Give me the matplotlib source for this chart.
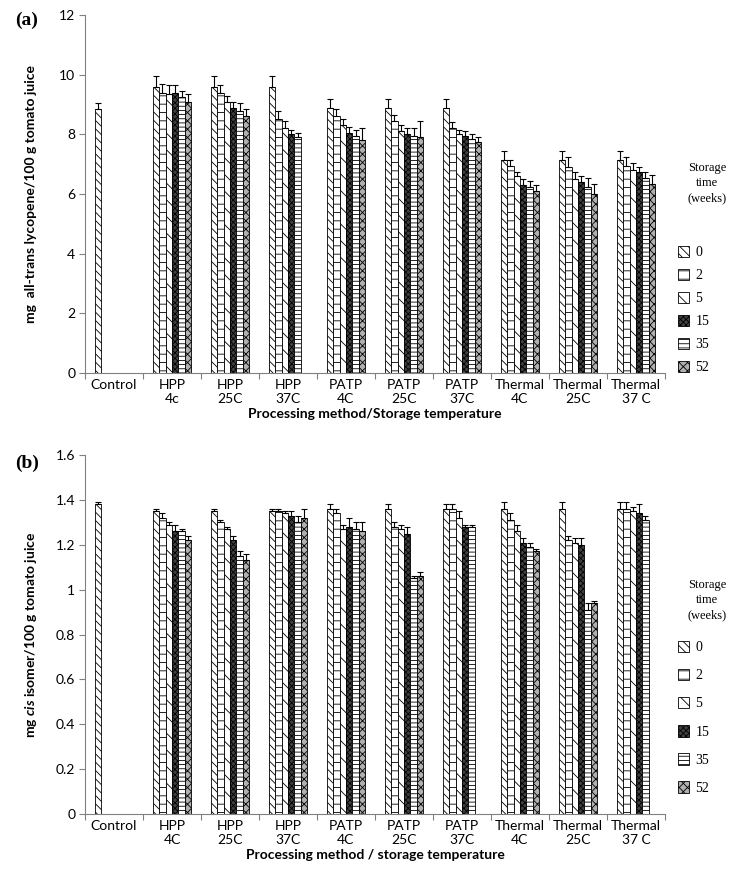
import numpy as np
import matplotlib
matplotlib.use("Agg")
import matplotlib.pyplot as plt
from matplotlib.patches import Patch

plt.rcParams['font.family'] = ['Lato', 'DejaVu Sans']
plt.rcParams['hatch.linewidth'] = 0.6
plt.rcParams['mathtext.fontset'] = 'custom'
plt.rcParams['mathtext.it'] = 'Lato:italic:bold'
plt.rcParams['mathtext.rm'] = 'Lato'

nan = np.nan
cats_a = ["Control", "HPP\n4c", "HPP\n25C", "HPP\n37C", "PATP\n4C", "PATP\n25C",
          "PATP\n37C", "Thermal\n4C", "Thermal\n25C", "Thermal\n37 C"]
cats_b = ["Control", "HPP\n4C", "HPP\n25C", "HPP\n37C", "PATP\n4C", "PATP\n25C",
          "PATP\n37C", "Thermal\n4C", "Thermal\n25C", "Thermal\n37 C"]
weeks = ["0", "2", "5", "15", "35", "52"]

# panel (a): rows = weeks, columns = categories
lyc = np.array([
    [8.85, 9.60, 9.60, 9.60, 8.90, 8.90, 8.90, 7.15, 7.15, 7.15],
    [nan,  9.40, 9.40, 8.50, 8.60, 8.45, 8.20, 6.95, 6.90, 6.95],
    [nan,  9.35, 9.10, 8.20, 8.30, 8.10, 8.00, 6.60, 6.50, 6.80],
    [nan,  9.40, 8.90, 8.00, 8.05, 8.00, 7.95, 6.30, 6.40, 6.75],
    [nan,  9.25, 8.80, 7.90, 7.95, 7.95, 7.85, 6.25, 6.25, 6.55],
    [nan,  9.10, 8.60, nan,  7.80, 7.90, 7.75, 6.10, 6.00, 6.35],
])
lyc_err = np.array([
    [0.20, 0.35, 0.35, 0.35, 0.30, 0.30, 0.30, 0.30, 0.30, 0.30],
    [nan,  0.30, 0.25, 0.30, 0.25, 0.20, 0.20, 0.20, 0.35, 0.30],
    [nan,  0.30, 0.20, 0.25, 0.20, 0.20, 0.15, 0.15, 0.25, 0.25],
    [nan,  0.25, 0.20, 0.15, 0.20, 0.20, 0.15, 0.20, 0.20, 0.15],
    [nan,  0.20, 0.25, 0.15, 0.20, 0.25, 0.15, 0.20, 0.30, 0.20],
    [nan,  0.25, 0.25, nan,  0.40, 0.55, 0.15, 0.20, 0.35, 0.30],
])

# panel (b)
cis = np.array([
    [1.38, 1.35, 1.35, 1.35, 1.36, 1.36, 1.36, 1.36, 1.36, 1.36],
    [nan,  1.32, 1.30, 1.35, 1.34, 1.28, 1.36, 1.31, 1.22, 1.36],
    [nan,  1.29, 1.27, 1.34, 1.27, 1.27, 1.32, 1.26, 1.21, 1.35],
    [nan,  1.26, 1.22, 1.33, 1.28, 1.25, 1.28, 1.21, 1.20, 1.34],
    [nan,  1.26, 1.15, 1.30, 1.27, 1.05, 1.28, 1.19, 0.91, 1.31],
    [nan,  1.22, 1.13, 1.32, 1.26, 1.06, nan,  1.17, 0.94, nan],
])
cis_err = np.array([
    [0.01, 0.01, 0.01, 0.01, 0.02, 0.02, 0.02, 0.03, 0.03, 0.03],
    [nan,  0.02, 0.01, 0.01, 0.02, 0.02, 0.02, 0.03, 0.02, 0.03],
    [nan,  0.01, 0.01, 0.01, 0.02, 0.02, 0.03, 0.03, 0.02, 0.02],
    [nan,  0.03, 0.02, 0.02, 0.04, 0.03, 0.01, 0.02, 0.03, 0.04],
    [nan,  0.01, 0.02, 0.03, 0.03, 0.01, 0.01, 0.02, 0.03, 0.02],
    [nan,  0.02, 0.03, 0.04, 0.04, 0.02, nan,  0.01, 0.01, nan],
])

hatches = ['\\\\\\\\', '--', '\\\\', 'xxxxxx', '----', 'xxxx']
faces = ['white', 'white', 'white', '#404040', 'white', '#b0b0b0']

fig = plt.figure(figsize=(7.29, 8.88), dpi=100)
ax_a = fig.add_axes([0.1166, 0.58, 0.7955, 0.403])
ax_b = fig.add_axes([0.1166, 0.0833, 0.7955, 0.4043])

bw = 0.11


def draw(ax, vals, errs, cats, ymax, ystep, fmt):
    x = np.arange(len(cats))
    for i in range(len(weeks)):
        xi = x + (i - 2.5) * bw
        ax.bar(xi, vals[i], width=bw, color=faces[i], edgecolor='black',
               linewidth=0.6, hatch=hatches[i], zorder=2)
        e = np.nan_to_num(errs[i])
        ax.errorbar(xi, vals[i], yerr=[np.zeros_like(e), e], fmt='none',
                    ecolor='black', elinewidth=0.8, capsize=2.5, capthick=0.8, zorder=3)
    ax.set_xlim(-0.5, len(cats) - 0.5)
    ax.set_ylim(0, ymax)
    ticks = np.arange(0, ymax + ystep / 2, ystep)
    ax.set_yticks(ticks)
    ax.set_yticklabels([fmt(v) for v in ticks], fontsize=10)
    ax.set_xticks(x)
    ax.set_xticklabels(cats, fontsize=10, linespacing=1.25)
    ax.tick_params(axis='x', length=0, pad=4)
    ax.set_xticks(np.arange(-0.5, len(cats) + 0.5, 1), minor=True)
    ax.tick_params(axis='x', which='minor', length=4, direction='out', width=0.8, color='#808080')
    ax.tick_params(axis='y', length=4, direction='out', width=0.8, color='#808080', pad=3)
    for s in ['top', 'right']:
        ax.spines[s].set_visible(False)
    for s in ['left', 'bottom']:
        ax.spines[s].set_color('#808080')
        ax.spines[s].set_linewidth(0.8)


draw(ax_a, lyc, lyc_err, cats_a, 12, 2, lambda v: f"{int(round(v))}")


def fmt_b(v):
    v = round(v, 1)
    if abs(v - round(v)) < 1e-9:
        return f"{int(round(v))}"
    return f"{v:.1f}"


draw(ax_b, cis, cis_err, cats_b, 1.6, 0.2, fmt_b)

ax_a.set_ylabel("mg  all-trans lycopene/100 g tomato juice", fontsize=10, fontweight='bold', labelpad=16)
ax_b.set_ylabel(r"mg $\mathit{cis}$ isomer/100 g tomato juice", fontsize=10, fontweight='bold', labelpad=12)
ax_a.set_xlabel("Processing method/Storage temperature", fontsize=10, fontweight='bold', labelpad=2)
ax_b.set_xlabel("Processing method / storage temperature", fontsize=10, fontweight='bold', labelpad=2)

serif = ['Liberation Serif', 'DejaVu Serif']
fig.text(15 / 729, 1 - 20 / 888, "(a)", fontsize=14, fontweight='bold', family=serif, va='center', ha='left')
fig.text(15 / 729, 1 - 463 / 888, "(b)", fontsize=14, fontweight='bold', family=serif, va='center', ha='left')

fig.text(707 / 729, 1 - 183 / 888, "Storage\ntime\n(weeks)", fontsize=9, family=serif,
         ha='center', va='center', linespacing=1.35)
fig.text(707 / 729, 1 - 600 / 888, "Storage\ntime\n(weeks)", fontsize=9, family=serif,
         ha='center', va='center', linespacing=1.35)

handles = [Patch(facecolor=faces[i], edgecolor='black', hatch=hatches[i], linewidth=0.6)
           for i in range(len(weeks))]
fig.legend(handles, weeks, loc='upper left', bbox_to_anchor=(672 / 729, 1 - 240 / 888),
           frameon=False, prop={'family': serif, 'size': 10}, handlelength=0.8,
           handleheight=0.9, labelspacing=0.68, handletextpad=0.5, borderaxespad=0)
fig.legend(handles, weeks, loc='upper left', bbox_to_anchor=(672 / 729, 1 - 635 / 888),
           frameon=False, prop={'family': serif, 'size': 10}, handlelength=0.8,
           handleheight=0.9, labelspacing=1.05, handletextpad=0.5, borderaxespad=0)

fig.savefig("out.png", dpi=100)
